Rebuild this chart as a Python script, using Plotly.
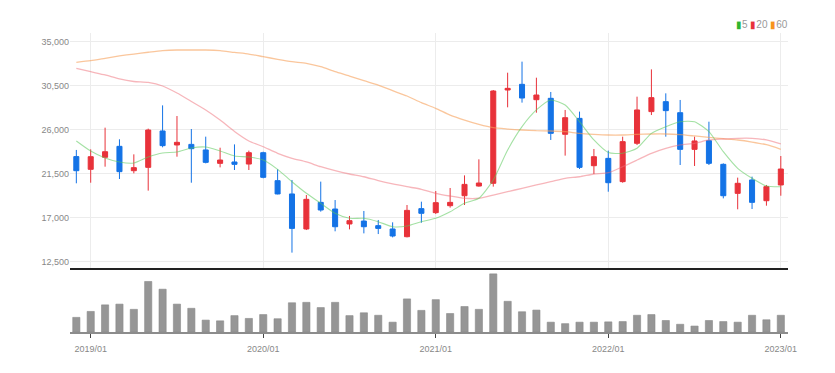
import plotly.graph_objects as go
from plotly.subplots import make_subplots

months = ["2018/12",
          "2019/01", "2019/02", "2019/03", "2019/04", "2019/05", "2019/06",
          "2019/07", "2019/08", "2019/09", "2019/10", "2019/11", "2019/12",
          "2020/01", "2020/02", "2020/03", "2020/04", "2020/05", "2020/06",
          "2020/07", "2020/08", "2020/09", "2020/10", "2020/11", "2020/12",
          "2021/01", "2021/02", "2021/03", "2021/04", "2021/05", "2021/06",
          "2021/07", "2021/08", "2021/09", "2021/10", "2021/11", "2021/12",
          "2022/01", "2022/02", "2022/03", "2022/04", "2022/05", "2022/06",
          "2022/07", "2022/08", "2022/09", "2022/10", "2022/11", "2022/12",
          "2023/01"]

opens = [23250, 21950, 23180, 24300, 21810, 22150, 25870, 24440, 24500, 23930,
         22560, 22700, 22490, 23650, 20790, 19430, 15850, 18570, 17890, 16360,
         16660, 16190, 15850, 15060, 17930, 17520, 18230, 19250, 20240, 20520,
         30060, 30640, 29070, 29210, 25530, 27160, 22320, 23070, 20690, 24610,
         27850, 28870, 27740, 23990, 24880, 22460, 19490, 20860, 18740, 20350]
highs = [23930, 23990, 26210, 25020, 23480, 26110, 28490, 27400, 26070, 25290,
         24160, 24500, 23860, 23750, 21950, 20860, 19320, 20690, 18810, 17180,
         17690, 16770, 16530, 18300, 18640, 19730, 20040, 21330, 22970, 30060,
         31830, 32960, 31320, 29860, 28020, 27850, 24030, 23860, 25290, 29380,
         32170, 29720, 29040, 25290, 26820, 22560, 21100, 21200, 20350, 23310]
lows = [20520, 20580, 22220, 20960, 21540, 19770, 24200, 23240, 20580, 22560,
        22150, 21880, 21880, 21030, 19390, 13430, 15740, 17620, 15610, 15810,
        15400, 15330, 14990, 14990, 16490, 17380, 18030, 18300, 20180, 20180,
        28290, 28770, 27740, 24950, 23350, 21980, 21470, 19660, 20580, 24440,
        27500, 25290, 22390, 22290, 22390, 18980, 17860, 17890, 18230, 19250]
closes = [21810, 23240, 23750, 21710, 22120, 25970, 24370, 24710, 24060, 22660,
          22900, 22460, 23650, 21130, 19430, 15910, 18880, 17790, 16080, 16700,
          16080, 15910, 15130, 17750, 17450, 18540, 18570, 20410, 20550, 29960,
          30230, 29240, 29550, 25630, 27230, 22150, 23240, 20580, 24780, 28020,
          29280, 27950, 23990, 24850, 22560, 19250, 20520, 18570, 20180, 21980]

ma5 = [24850, 23820, 23110, 22700, 22600, 23210, 23620, 23720, 24130, 24230,
       23820, 23310, 23210, 22900, 21950, 20680, 19500, 18470, 17450, 16940,
       16940, 16590, 16080, 16150, 16590, 16940, 17610, 18470, 18990, 20860,
       23920, 26310, 28020, 29040, 28530, 26820, 24950, 23670, 23590, 24100,
       25630, 26310, 26820, 26820, 25800, 23750, 22050, 21030, 20240, 20170]
ma20 = [32280, 31930, 31600, 31190, 30930, 30830, 30470, 29750, 28890, 28020,
        26990, 25820, 24850, 24260, 23590, 23080, 22700, 22220, 21810, 21470,
        21190, 20790, 20450, 20170, 19910, 19500, 19220, 18990, 18990, 19320,
        19660, 20010, 20350, 20680, 21030, 21190, 21470, 21600, 22220, 22900,
        23590, 24100, 24440, 24610, 24950, 25050, 25120, 25120, 24950, 24540]
ma60 = [32890, 33060, 33300, 33540, 33740, 33920, 34080, 34150, 34150, 34150,
        34080, 33900, 33740, 33470, 33200, 32960, 32790, 32440, 31930, 31490,
        31010, 30570, 29990, 29450, 28760, 28190, 27500, 26990, 26550, 26210,
        26070, 25970, 25900, 25870, 25800, 25630, 25530, 25460, 25460, 25530,
        25560, 25560, 25490, 25360, 25220, 25080, 24950, 24740, 24470, 24000]
volumes = [14000, 19700, 26000, 26700, 21700, 48400, 41000, 26700, 22700, 11400,
           10700, 15700, 13000, 16700, 12700, 28000, 28400, 23400, 28400, 15700,
           18400, 16000, 9400, 31700, 20700, 31000, 17700, 24400, 21700, 55700,
           29400, 19400, 21000, 9400, 8000, 9400, 9400, 9700, 10000, 16000,
           16700, 11000, 7400, 5700, 11000, 10000, 9400, 16000, 11700, 16000]

price_ticks = [12500, 17000, 21500, 26000, 30500, 35000]
year_ticks = ["2019/01", "2020/01", "2021/01", "2022/01", "2023/01"]

FONT = "Liberation Sans Narrow, Arial Narrow, sans-serif"
UP = "#e8323a"
DOWN = "#1473e6"

fig = make_subplots(rows=2, cols=1, shared_xaxes=False,
                    row_heights=[0.786, 0.214], vertical_spacing=0.0)

fig.add_trace(go.Scatter(x=months, y=ma60, mode="lines",
                         line=dict(color="rgba(247,160,90,0.6)", width=1.3, shape="spline", smoothing=0.6),
                         showlegend=False, hoverinfo="skip"), row=1, col=1)
fig.add_trace(go.Scatter(x=months, y=ma20, mode="lines",
                         line=dict(color="rgba(240,110,120,0.5)", width=1.3, shape="spline", smoothing=0.6),
                         showlegend=False, hoverinfo="skip"), row=1, col=1)
fig.add_trace(go.Scatter(x=months, y=ma5, mode="lines",
                         line=dict(color="rgba(90,200,90,0.55)", width=1.1, shape="spline", smoothing=0.6),
                         showlegend=False, hoverinfo="skip"), row=1, col=1)

fig.add_trace(go.Candlestick(x=months, open=opens, high=highs, low=lows, close=closes,
                             increasing=dict(line=dict(color=UP, width=1), fillcolor=UP),
                             decreasing=dict(line=dict(color=DOWN, width=1), fillcolor=DOWN),
                             whiskerwidth=0, showlegend=False), row=1, col=1)

fig.add_trace(go.Bar(x=months, y=volumes, width=0.5,
                     marker=dict(color="#969696", line=dict(color="#8a8a8a", width=0.6)),
                     showlegend=False), row=2, col=1)

xr = [-0.44, 49.5]
fig.update_xaxes(type="category", range=xr, rangeslider=dict(visible=False),
                 tickvals=year_ticks, showticklabels=False, showgrid=True,
                 gridcolor="#ececec", gridwidth=1, showline=True,
                 linecolor="#222222", linewidth=2, ticks="", row=1, col=1)
fig.update_xaxes(type="category", range=xr, tickvals=year_ticks, ticktext=year_ticks,
                 showgrid=False, showline=True, linecolor="#8c8c8c", linewidth=2,
                 ticks="outside", ticklen=4, tickcolor="#444444", tickwidth=1,
                 ticklabelstandoff=3,
                 tickfont=dict(family=FONT, size=9, color="#888888"), row=2, col=1)

fig.update_yaxes(range=[11857, 35890], tickvals=price_ticks, tickformat=",d",
                 showgrid=True, gridcolor="#ececec", gridwidth=1, zeroline=False,
                 showline=False, ticks="",
                 tickfont=dict(family=FONT, size=9, color="#888888"), row=1, col=1)
fig.update_yaxes(range=[0, 61300], showgrid=False, zeroline=False, showticklabels=False,
                 showline=False, ticks="", row=2, col=1)

fig.add_annotation(xref="paper", yref="paper", x=1.003, y=1.03, xanchor="right", yanchor="middle",
                   showarrow=False,
                   text="<span style='color:#2fb52f'>▮</span>5 <span style='color:#e8323a'>▮</span>20 <span style='color:#f7941d'>▮</span>60",
                   font=dict(family=FONT, size=10, color="#999999"))

fig.update_layout(width=835, height=373, margin=dict(l=62, r=55, t=25, b=49),
                  paper_bgcolor="white", plot_bgcolor="white", boxgap=0.5,
                  bargap=0.5, showlegend=False)

fig.write_html("out.html")
